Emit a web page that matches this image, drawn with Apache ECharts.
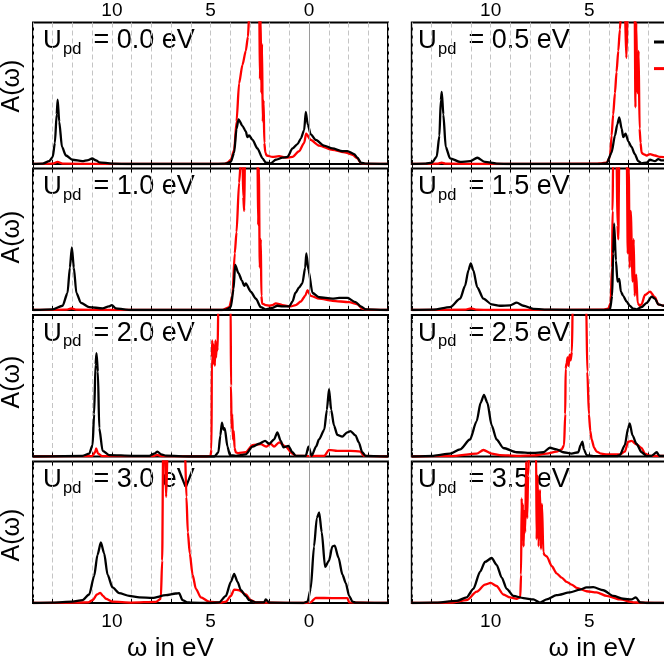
<!DOCTYPE html>
<html><head><meta charset="utf-8">
<script src="https://cdn.jsdelivr.net/npm/echarts@6/dist/echarts.min.js"></script>
<style>html,body{margin:0;padding:0;background:#fff}#c{width:664px;height:656px}</style>
</head><body><div id="c"></div>
<script>
// ---- data (x: omega in eV, y: A(omega) in panel units, 100 = panel top) ----
const updLabels = ['0.0','0.5','1.0','1.5','2.0','2.5','3.0','3.5'];
const tickLabels = [10,5,0];
const seriesNames = ['d','p'];

const black00 = [[14,0],[13.5,0.3],[13.18,2],[13.0,5],[12.89,15],[12.8,35],[12.75,45.5],[12.67,30],[12.53,12],[12.33,6],[12.0,3],[11.5,2],[11.2,2.8],[11.0,3.9],[10.8,2.5],[10.64,1.2],[10.0,0.3],[9.0,0],[5.0,0],[4.22,0.3],[3.97,1.5],[3.8,8],[3.68,25],[3.58,31.6],[3.38,27],[3.21,23],[3.13,19],[3.04,20.2],[2.87,17],[2.62,11],[2.36,4],[2.2,1],[1.94,0.5],[1.69,3],[1.35,4.5],[1.1,5],[0.84,11],[0.59,14],[0.42,18],[0.25,24],[0.17,36.8],[0.07,28],[-0.08,21],[-0.34,17],[-0.76,13],[-1.18,11],[-1.69,9],[-1.94,9.1],[-2.28,7],[-2.45,4.5],[-2.62,1],[-2.87,0.2],[-4,0]];
const red00 = [[14,0],[13.0,0.3],[12.75,1.5],[12.5,0.3],[10,0],[4.3,0],[4.14,1],[3.97,3],[3.8,10],[3.68,30],[3.55,57],[3.38,70],[3.21,80],[3.1,90],[3.04,105],[2.53,110],[2.49,60],[2.46,105],[2.42,50],[2.39,85],[2.35,30],[2.31,45],[2.27,15],[2.22,8],[2.15,6],[1.86,5],[1.52,5.5],[1.18,4.5],[0.84,5],[0.51,9],[0.25,15],[0.15,21.4],[-0.08,17],[-0.51,13],[-1.18,10],[-1.86,8],[-2.2,6.5],[-2.45,4],[-2.62,0.8],[-2.9,0],[-4,0]];

const black05 = [[14,0],[13.3,0.3],[12.99,1],[12.74,5],[12.6,20],[12.53,45],[12.48,51],[12.4,35],[12.28,12],[12.06,4],[11.55,1.5],[11.05,2],[10.68,4.4],[10.29,1.5],[9.7,0.3],[9,0],[4.5,0],[4.12,0.5],[3.87,8],[3.7,20],[3.58,28],[3.48,33],[3.36,25],[3.28,19],[3.16,21.4],[3.02,16],[2.86,12],[2.69,7],[2.52,2],[2.35,0.5],[2.09,1],[1.92,3],[1.67,2],[1.5,3.5],[1.33,2.5],[1.0,3]];
const red05 = [[14,0],[12.7,0.2],[12.48,1],[12.3,0.2],[10,0],[4.6,0.3],[4.38,0.5],[4.12,1],[3.95,5],[3.87,20],[3.79,35],[3.7,50],[3.62,65],[3.53,80],[3.45,95],[3.38,110],[3.2,110],[3.12,75],[3.05,110],[2.7,110],[2.66,40],[2.62,100],[2.56,50],[2.5,80],[2.45,25],[2.4,15],[2.35,8],[2.26,7],[2.09,6],[1.92,7],[1.67,6],[1.42,5],[1.0,4.5]];

const black10 = [[14,0],[13.0,0.5],[12.5,3],[12.25,12],[12.13,30],[12.03,44.3],[11.93,30],[11.8,12],[11.57,5],[11.15,2],[10.47,1.2],[10.15,2.5],[10.0,3.5],[9.8,1.2],[9.29,0.3],[9,0],[4.5,0],[4.22,0.3],[3.97,2],[3.83,15],[3.75,31.8],[3.58,26],[3.41,21],[3.29,17],[3.21,18.8],[2.96,13],[2.7,8],[2.45,2],[2.2,0.5],[1.86,1.5],[1.61,3],[1.35,2.5],[1.01,2.5],[0.84,6],[0.7,12],[0.5,16],[0.34,19],[0.2,30],[0.14,40],[0.03,28],[-0.17,12],[-0.51,9],[-1.18,8],[-1.52,8.5],[-1.94,8.5],[-2.36,5.5],[-2.62,2.5],[-2.87,0.5],[-4,0]];
const red10 = [[14,0],[12.3,0.2],[12.05,1.2],[11.8,0.2],[10,0],[4.4,0],[4.05,2],[3.89,10],[3.77,40],[3.68,55],[3.55,90],[3.46,105],[3.38,110],[3.34,80],[3.29,70],[3.25,110],[2.75,110],[2.62,110],[2.58,60],[2.55,100],[2.5,30],[2.45,50],[2.42,10],[2.38,4.5],[2.2,3.5],[2.0,3],[1.86,3.5],[1.69,4.7],[1.35,3.5],[0.93,2.5],[0.68,3.5],[0.42,6],[0.2,10],[0.08,14],[-0.08,10],[-0.51,8],[-1.18,6.5],[-2.03,5.5],[-2.45,4],[-2.7,1],[-2.96,0.2],[-4,0]];

const black15 = [[14,0],[12.9,0.3],[12.06,2],[11.55,8],[11.3,17],[11.13,28],[11.01,33],[10.88,28],[10.68,16],[10.37,8],[9.95,4],[9.53,3],[9.02,3.3],[8.68,5.2],[8.34,3],[7.84,0.8],[7.0,0.2],[5,0],[4.2,0],[3.95,0.5],[3.84,10],[3.79,40],[3.74,61],[3.65,35],[3.57,20],[3.48,22],[3.4,13],[3.28,10],[3.11,6],[2.95,3],[2.78,1],[2.61,0.5],[2.35,2],[2.09,5],[1.84,9.4],[1.67,8],[1.5,4],[1.25,3],[1.0,3]];
const red15 = [[14,0],[11.3,0.2],[11.0,1.2],[10.7,0.2],[10,0],[4.3,0.2],[4.04,1],[3.92,5],[3.85,30],[3.82,70],[3.79,110],[3.62,110],[3.57,60],[3.53,50],[3.48,110],[3.1,110],[3.05,40],[3.0,100],[2.95,30],[2.9,70],[2.8,20],[2.75,50],[2.7,10],[2.62,25],[2.55,5],[2.45,3],[2.35,4],[2.18,10.6],[1.92,13],[1.67,9],[1.5,4],[1.25,3],[1.0,3]];

const black20 = [[14,0],[11.49,0.5],[11.15,2],[10.98,8],[10.9,30],[10.83,65],[10.78,73],[10.71,60],[10.64,20],[10.47,4],[10.14,1],[8.95,0.5],[8.1,0.5],[7.85,2],[7.69,3.4],[7.5,1.5],[7.26,0.6],[6,0],[4.8,0],[4.6,3],[4.5,15],[4.42,24],[4.34,19],[4.28,20],[4.14,7],[4.02,1],[3.72,0.5],[3.21,1.5],[2.87,7],[2.54,9],[2.23,11],[2.03,9],[1.78,12],[1.61,17],[1.44,11],[1.3,6.5],[1.05,7.5],[0.85,3],[0.68,0.5],[0.17,0.5],[0.03,7],[-0.13,0.5],[-0.35,7],[-0.5,12],[-0.77,19],[-0.9,33],[-1.01,47.6],[-1.12,33],[-1.26,22],[-1.43,15.3],[-1.68,14],[-1.93,17],[-2.1,18],[-2.35,15],[-2.52,10],[-2.69,3],[-2.86,0.5],[-4,0]];
const red20 = [[14,0],[11.0,0.3],[10.85,3],[10.8,5.7],[10.7,2],[10.5,0.3],[7.9,0.3],[7.7,1.2],[7.5,0.3],[5.2,0],[5.0,0.5],[4.95,5],[4.93,70],[4.91,82],[4.89,65],[4.87,80],[4.84,66],[4.81,78],[4.78,64],[4.75,82],[4.72,70],[4.68,80],[4.64,75],[4.6,110],[3.98,110],[3.96,50],[3.93,20],[3.9,30],[3.86,12],[3.82,18],[3.78,6],[3.72,3],[3.6,2.4],[3.21,3],[2.87,8],[2.45,8.7],[2.16,7],[1.95,9],[1.78,7],[1.52,10],[1.19,7],[0.85,2],[0.68,0.5],[0,0.3],[-0.77,0.5],[-1.01,4.7],[-1.43,4],[-2.1,4],[-2.6,3.5],[-2.77,0.5],[-4,0]];

const black25 = [[14,0],[12.9,0.5],[12.06,2],[11.55,5],[11.05,12],[10.71,25],[10.51,38],[10.34,43.5],[10.17,38],[9.95,22],[9.7,12],[9.36,6],[8.68,3],[7.84,2.5],[7.33,3],[7.0,6.2],[6.66,5],[6.32,3],[5.9,2],[5.56,3],[5.44,8],[5.35,10.5],[5.27,5],[5.14,1],[4.8,0.3],[3.6,0.3],[3.45,1],[3.2,8],[3.03,20],[2.95,23.4],[2.81,15],[2.61,9],[2.35,3],[2.09,0.3],[1.84,0.5],[1.58,3],[1.45,0.5],[1.0,0.2]];
const red25 = [[14,0],[12,0.3],[10.71,2],[10.37,4.6],[9.95,2],[9.53,1],[8.68,0.5],[7.84,0.8],[7.16,2],[6.66,3.5],[6.4,5],[6.28,8],[6.22,30],[6.2,62],[6.15,66],[6.1,70],[6.05,64],[6.0,72],[5.95,68],[5.88,74],[5.84,110],[5.16,110],[5.1,60],[5.02,30],[4.95,18],[4.88,12],[4.75,6],[4.63,3.5],[4.4,2],[4.1,1.5],[3.45,1.5],[3.2,3.4],[3.03,10.5],[2.86,11],[2.61,8.6],[2.35,6],[2.18,2],[1.92,0.5],[1.0,0.3]];

const black30 = [[14,0],[13,0.3],[12,1],[11.49,2],[11.15,6],[10.9,19],[10.73,34],[10.56,42.8],[10.39,35],[10.22,20],[9.97,11],[9.63,7],[9.12,5],[8.61,4],[7.94,3.6],[7.26,5.5],[6.76,6.7],[6.59,7],[6.42,2],[6.17,0.5],[6,0.3],[5,0],[4.56,0.5],[4.22,5],[3.97,15],[3.8,20.5],[3.63,15],[3.46,9],[3.21,5],[3.04,2],[2.7,0.5],[2.28,0.5],[2.2,2.5],[2.03,0.3],[0.3,0],[0.08,1],[-0.08,10],[-0.25,40],[-0.39,60],[-0.51,64],[-0.64,50],[-0.81,25.5],[-1.01,30],[-1.18,40],[-1.3,40.5],[-1.49,32],[-1.69,20],[-1.86,14],[-2.03,5],[-2.2,1],[-2.36,0.2],[-4,0]];
const red30 = [[14,0],[12,0.2],[11.2,0.5],[10.98,2],[10.75,6],[10.59,7.2],[10.45,5],[10.3,3],[9.97,1],[9,0.3],[7.77,0.8],[7.52,3],[7.45,30],[7.4,110],[7.32,110],[7.25,75],[7.17,110],[6.3,110],[6.22,75],[6.15,50],[6.05,35],[5.91,20],[5.74,10],[5.49,4],[5.07,1],[4.5,0.3],[4.22,1],[3.97,5],[3.8,9.5],[3.55,9],[3.21,6],[2.96,2],[2.7,0.5],[2,0.2],[0.2,0],[-0.08,0.5],[-0.34,3.6],[-1.18,3.5],[-1.94,3.5],[-2.03,0.5],[-4,0]];

const black35 = [[14,0],[12.9,0.2],[11.72,1.5],[11.22,4],[10.88,10],[10.54,22],[10.29,29],[9.95,31.8],[9.7,27],[9.44,18],[9.19,10],[8.85,5],[8.34,3.5],[7.84,2.5],[7.5,0.3],[7.16,2.5],[6.66,5.5],[5.98,7.5],[5.47,9.5],[5.14,11],[4.8,11.2],[4.29,9],[3.78,5],[3.28,3],[2.86,2.5],[2.64,4],[2.43,0.5],[2.09,0],[1,0]];
const red35 = [[14,0],[12,0.2],[11.22,2],[10.71,8],[10.29,13],[10.0,14.2],[9.7,12],[9.36,6],[9.02,4],[8.68,3],[8.5,4],[8.46,20],[8.43,74],[8.4,45],[8.37,70],[8.33,40],[8.3,65],[8.25,50],[8.2,100],[8.15,60],[8.1,90],[8.05,110],[7.7,110],[7.67,45],[7.62,90],[7.57,40],[7.5,80],[7.45,38],[7.4,70],[7.33,36],[7.28,34],[7.16,33],[6.9,26],[6.66,21],[6.4,18],[6.15,15],[5.9,13],[5.64,10.7],[5.14,8.3],[4.63,7.5],[4.12,5],[3.45,2.5],[2.77,0.5],[2.3,0.2],[1,0]];

// ---- layout ----
const blackSets = [black00, black05, black10, black15, black20, black25, black30, black35];
const redSets   = [red00, red05, red10, red15, red20, red25, red30, red35];
const colLeft = [33, 411.8];
const rowTop = [22.5, 168.5, 315, 461.5];
const gridW = 355, gridH = 141.5;
const FONT = 'Liberation Sans, Arial, sans-serif';

const grids = [], xAxes = [], yAxes = [], series = [], graphics = [];
for (let i = 0; i < 8; i++) {
  const col = i % 2, row = Math.floor(i / 2);
  grids.push({left: colLeft[col], top: rowTop[row], width: gridW, height: gridH,
    outerBoundsMode: 'none', containLabel: false,
    show: true, borderColor: '#000', borderWidth: 2, backgroundColor: 'transparent'});
  const showLabels = row === 0 || row === 3;
  const mainPos = row === 0 ? 'top' : 'bottom';
  xAxes.push({type: 'value', gridIndex: i, min: -4, max: 14, interval: 1, inverse: true,
    position: mainPos,
    axisLine: {show: false},
    axisTick: {show: true, inside: true, length: 4, lineStyle: {color: '#000', width: 1}},
    axisLabel: {show: showLabels, margin: row === 0 ? 2 : 9.5, fontSize: 19, fontFamily: FONT, color: '#000',
      hideOverlap: false,
      formatter: v => tickLabels.indexOf(Math.round(v)) >= 0 && Math.abs(v - Math.round(v)) < 1e-6 ? String(Math.round(v)) : ''},
    splitLine: {show: true, lineStyle: {color: '#c4c4c4', width: 1, type: [5, 3]}}
  });
  xAxes.push({type: 'value', gridIndex: i, min: -4, max: 14, interval: 1, inverse: true,
    position: mainPos === 'top' ? 'bottom' : 'top',
    axisLine: {show: false},
    axisTick: {show: true, inside: true, length: 4, lineStyle: {color: '#000', width: 1}},
    axisLabel: {show: false}, splitLine: {show: false}
  });
  yAxes.push({type: 'value', gridIndex: i, min: 0, max: 100,
    axisLine: {show: false}, axisTick: {show: false}, axisLabel: {show: false}, splitLine: {show: false}});

  series.push({name: seriesNames[1], type: 'line', xAxisIndex: 2 * i, yAxisIndex: i,
    data: redSets[i], showSymbol: false, smooth: 0.25, smoothMonotone: 'x', clip: true, z: 3,
    lineStyle: {color: '#ff0000', width: 2.3}, itemStyle: {color: '#ff0000'},
    markLine: {silent: true, symbol: 'none', label: {show: false}, animation: false,
      lineStyle: {color: '#9a9a9a', type: 'solid', width: 1}, data: [{xAxis: 0}]}
  });
  series.push({name: seriesNames[0], type: 'line', xAxisIndex: 2 * i, yAxisIndex: i,
    data: blackSets[i], showSymbol: false, smooth: 0.25, smoothMonotone: 'x', clip: true, z: 4,
    lineStyle: {color: '#000', width: 2.3}, itemStyle: {color: '#000'}
  });

  // U_pd label
  const ux = col === 0 ? 43 : 418;
  const uy = rowTop[row] + 18.5;
  graphics.push({type: 'text', x: ux, y: uy, style: {text: 'U', font: '26px ' + FONT, fill: '#000', align: 'left', verticalAlign: 'middle', textAlign: 'left', textVerticalAlign: 'middle'}});
  graphics.push({type: 'text', x: ux + 20, y: uy + 8, style: {text: 'pd', font: '16.5px ' + FONT, fill: '#000', align: 'left', verticalAlign: 'middle', textAlign: 'left', textVerticalAlign: 'middle'}});
  graphics.push({type: 'text', x: ux + 50.5, y: uy, style: {text: '= ' + updLabels[i] + ' eV', font: '27px ' + FONT, fill: '#000', align: 'left', verticalAlign: 'middle', textAlign: 'left', textVerticalAlign: 'middle'}});
}
const yLabelCenters = [86, 237, 382, 535];
yLabelCenters.forEach(cy => graphics.push({type: 'text', x: 12.5, y: cy, rotation: Math.PI / 2,
  style: {text: 'A(ω)', font: '25px ' + FONT, fill: '#000', align: 'center', verticalAlign: 'middle', textAlign: 'center', textVerticalAlign: 'middle'}}));
[170.5, 592].forEach(cx => graphics.push({type: 'text', x: cx, y: 649,
  style: {text: 'ω in eV', font: '26px ' + FONT, fill: '#000', align: 'center', verticalAlign: 'middle', textAlign: 'center', textVerticalAlign: 'middle'}}));

const chart = echarts.init(document.getElementById('c'), null, {renderer: 'canvas'});
chart.setOption({
  animation: false,
  backgroundColor: '#fff',
  grid: grids, xAxis: xAxes, yAxis: yAxes, series: series,
  legend: {data: seriesNames, left: 654, top: 32, orient: 'vertical', icon: 'rect',
    itemWidth: 30, itemHeight: 3, itemGap: 6.6, padding: 0,
    textStyle: {fontSize: 20, lineHeight: 20, fontFamily: FONT, color: '#000'}},
  graphic: {elements: graphics}
});
</script></body></html>
